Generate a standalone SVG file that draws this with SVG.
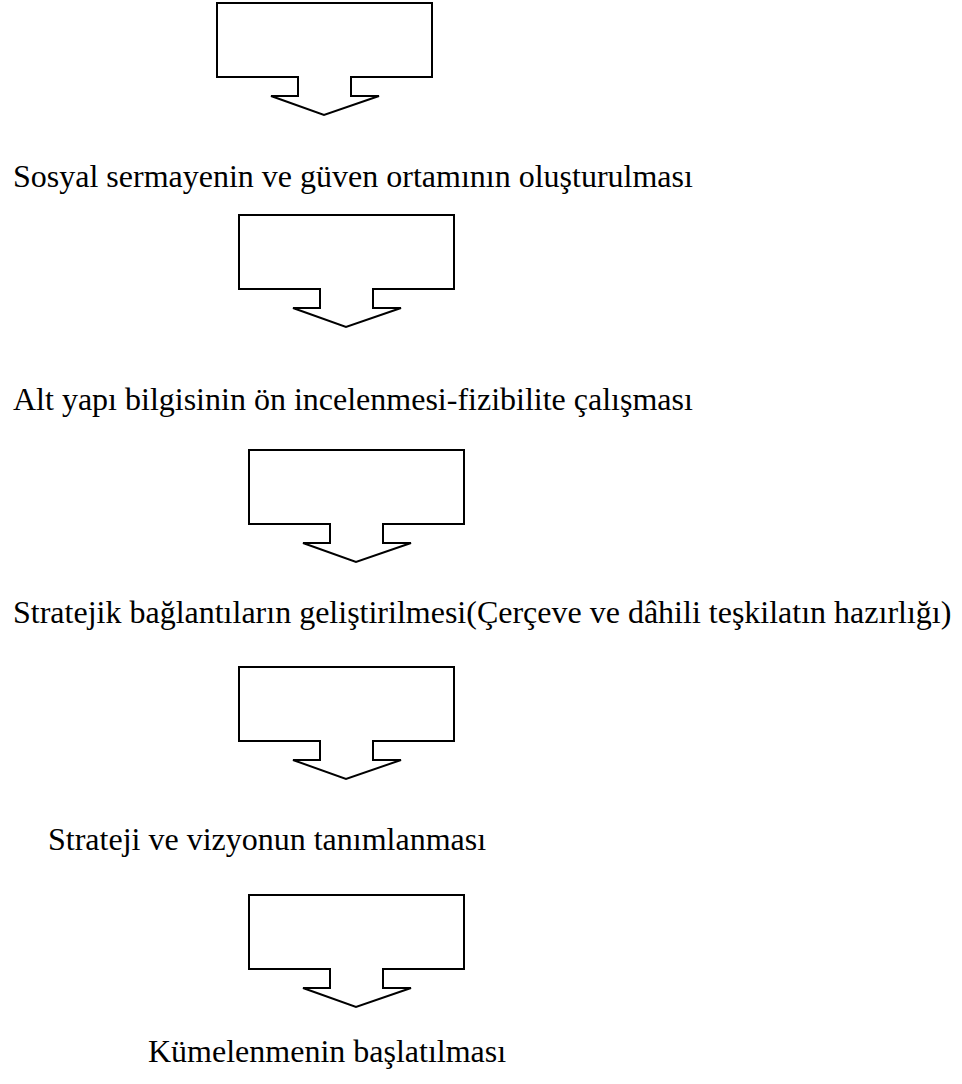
<svg xmlns="http://www.w3.org/2000/svg" width="962" height="1084" viewBox="0 0 962 1084">
  <style>
    .arrow { fill: #ffffff; stroke: #000000; stroke-width: 2; stroke-linejoin: miter; }
    .label { font-family: "Liberation Serif", "Times New Roman", serif; font-size: 32px; fill: #000000; }
  </style>
  <defs>
    <!-- block arrow: box 215 wide, neck 53 wide, head 108 wide; origin at box top-left -->
    <path id="blockArrow" d="M0,0 H215 V74 H134 V93 H162 L107,112 L54,93 H81 V74 H0 Z"/>
  </defs>
  <rect width="962" height="1084" fill="#ffffff"/>

  <g id="connectors">
    <use href="#blockArrow" class="arrow" x="217" y="3"/>
    <use href="#blockArrow" class="arrow" x="239" y="215"/>
    <use href="#blockArrow" class="arrow" x="249" y="450"/>
    <use href="#blockArrow" class="arrow" x="239" y="667"/>
    <use href="#blockArrow" class="arrow" x="249" y="895"/>
  </g>

  <g id="step-sosyal-sermaye">
    <text class="label" x="13" y="187">Sosyal sermayenin ve güven ortamının oluşturulması</text>
  </g>
  <g id="step-alt-yapi">
    <text class="label" x="13" y="410">Alt yapı bilgisinin ön incelenmesi-fizibilite çalışması</text>
  </g>
  <g id="step-stratejik-baglantilar">
    <text class="label" x="13" y="623">Stratejik bağlantıların geliştirilmesi(Çerçeve ve dâhili teşkilatın hazırlığı)</text>
  </g>
  <g id="step-strateji-vizyon">
    <text class="label" x="48" y="850">Strateji ve vizyonun tanımlanması</text>
  </g>
  <g id="step-kumelenme">
    <text class="label" x="148" y="1062">Kümelenmenin başlatılması</text>
  </g>
</svg>
